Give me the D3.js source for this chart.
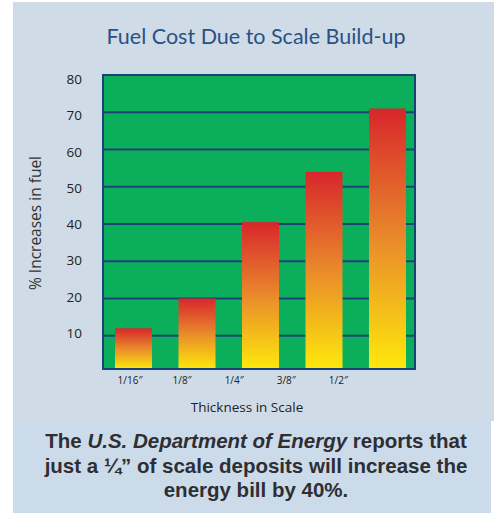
<!DOCTYPE html>
<html>
<head>
<meta charset="utf-8">
<script src="https://cdnjs.cloudflare.com/ajax/libs/d3/7.8.5/d3.min.js"></script>
<style>
  body { margin: 0; background: #fff; }
  svg { display: block; }
</style>
</head>
<body>
<svg id="chart" width="497" height="514"></svg>
<script>
// data
var thickness = ["1/16\u2033", "1/8\u2033", "1/4\u2033", "3/8\u2033", "1/2\u2033", ""];
var increase = [12, 20, 40.5, 54, 71];
var yTicks = [10, 20, 30, 40, 50, 60, 70, 80];
var note = [
  [["The ", false], ["U.S. Department of Energy", true], [" reports that", false]],
  [["just a \u00bc\u201d of scale deposits will increase the", false]],
  [["energy bill by 40%.", false]]
];

var svg = d3.select("#chart");

// backgrounds
svg.append("rect").attr("x", 13).attr("y", 2).attr("width", 481).attr("height", 419)
  .attr("fill", "#cfdbe7");
svg.append("rect").attr("x", 13).attr("y", 421).attr("width", 478).attr("height", 92)
  .attr("fill", "#cbdbea");

svg.append("text")
  .attr("x", 256).attr("y", 44)
  .attr("text-anchor", "middle")
  .attr("font-family", "Lato")
  .attr("font-size", 21.5)
  .attr("fill", "#2a5184")
  .text("Fuel Cost Due to Scale Build-up");

var margin = {top: 75, left: 103};
var width = 312, height = 294;

var defs = svg.append("defs");
var grad = defs.append("linearGradient")
  .attr("id", "barGrad")
  .attr("x1", 0).attr("y1", 0).attr("x2", 0).attr("y2", 1);
grad.append("stop").attr("offset", "0%").attr("stop-color", "#d8262b");
grad.append("stop").attr("offset", "50%").attr("stop-color", "#e98a2b");
grad.append("stop").attr("offset", "100%").attr("stop-color", "#fde80c");

var g = svg.append("g")
  .attr("transform", "translate(" + margin.left + "," + margin.top + ")");

var y = d3.scaleLinear()
  .domain([0, 80])
  .range([height + 4, 0]);

var x = d3.scaleBand()
  .domain(d3.range(increase.length))
  .range([12, 303])
  .paddingInner(0.417)
  .paddingOuter(0);

g.append("rect")
  .attr("width", width).attr("height", height)
  .attr("fill", "#0bae5b");

// grid lines
g.selectAll(".grid")
  .data(yTicks.filter(function(d){ return d < 80; }))
  .enter().append("line")
  .attr("class", "grid")
  .attr("x1", 0).attr("x2", width)
  .attr("y1", function(d){ return y(d); })
  .attr("y2", function(d){ return y(d); })
  .attr("stroke", "#1b4274")
  .attr("stroke-width", 2);

g.selectAll(".bar")
  .data(increase)
  .enter().append("rect")
  .attr("class", "bar")
  .attr("x", function(d, i){ return x(i); })
  .attr("y", function(d){ return y(d); })
  .attr("width", x.bandwidth())
  .attr("height", function(d){ return height - y(d); })
  .attr("fill", "url(#barGrad)");

g.append("rect")
  .attr("width", width).attr("height", height)
  .attr("fill", "none")
  .attr("stroke", "#1b4274")
  .attr("stroke-width", 2);

// y labels sit a little off the grid in the original
var yLab = d3.scaleLinear().domain([10, 80]).range([258, 4.5]);
g.selectAll(".ylab")
  .data(yTicks)
  .enter().append("text")
  .attr("class", "ylab")
  .attr("x", -21)
  .attr("y", function(d){ return yLab(d); })
  .attr("dy", "0.35em")
  .attr("text-anchor", "end")
  .attr("font-family", "Open Sans")
  .attr("font-size", 13.5)
  .attr("fill", "#222")
  .text(function(d){ return d; });

g.append("text")
  .attr("transform", "translate(-62," + 148 + ")rotate(-90)")
  .attr("text-anchor", "middle")
  .attr("font-family", "Open Sans")
  .attr("font-size", 15.5)
  .attr("fill", "#333")
  .text("% Increases in fuel");

// x labels are spaced on their own, not under the bars
var xLab = d3.scalePoint().domain(thickness).range([27, 287.5]);
g.selectAll(".xlab")
  .data(thickness)
  .enter().append("text")
  .attr("class", "xlab")
  .attr("x", function(d){ return xLab(d); })
  .attr("y", height + 15)
  .attr("text-anchor", "middle")
  .attr("font-family", "Open Sans")
  .attr("font-size", 10)
  .attr("fill", "#222")
  .text(function(d){ return d; });

svg.append("text")
  .attr("x", 247).attr("y", 412)
  .attr("text-anchor", "middle")
  .attr("font-family", "Open Sans")
  .attr("font-size", 13.5)
  .attr("fill", "#222")
  .text("Thickness in Scale");

var lines = svg.selectAll(".note")
  .data(note)
  .enter().append("text")
  .attr("class", "note")
  .attr("x", 256)
  .attr("y", function(d, i){ return 448 + i * 24.5; })
  .attr("text-anchor", "middle")
  .attr("font-family", "Liberation Sans, Arial, sans-serif")
  .attr("font-weight", "bold")
  .attr("font-size", 20.5)
  .attr("fill", "#2e2e33");

lines.selectAll("tspan")
  .data(function(d){ return d; })
  .enter().append("tspan")
  .attr("font-style", function(d){ return d[1] ? "italic" : "normal"; })
  .text(function(d){ return d[0]; });
</script>
</body>
</html>
